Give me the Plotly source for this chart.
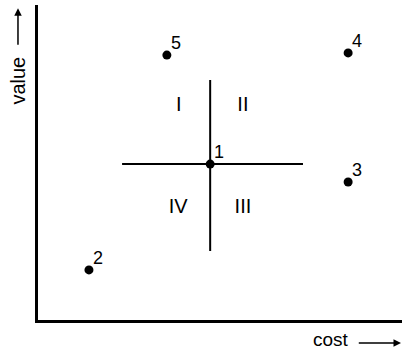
import plotly.graph_objects as go

# points on the cost/value plane
labels = ["1", "2", "3", "4", "5"]
cost = [4.73, 1.40, 8.52, 8.52, 3.54]
value = [4.95, 1.59, 4.38, 8.48, 8.41]

# cross through point 1
cross_h_x = [2.31, 7.28]
cross_h_y = [4.95, 4.95]
cross_v_x = [4.73, 4.73]
cross_v_y = [2.19, 7.62]

# quadrant labels
quad_text = ["I", "II", "III", "IV"]
quad_x = [3.87, 5.63, 5.63, 3.85]
quad_y = [6.80, 6.80, 3.57, 3.57]

fig = go.Figure()

fig.add_trace(go.Scatter(x=cross_h_x, y=cross_h_y, mode="lines",
                         line=dict(color="black", width=2), hoverinfo="skip"))
fig.add_trace(go.Scatter(x=cross_v_x, y=cross_v_y, mode="lines",
                         line=dict(color="black", width=2), hoverinfo="skip"))

fig.add_trace(go.Scatter(
    x=cost, y=value, mode="markers",
    marker=dict(color="black", size=9),
))

# point numbers, up and to the right of each dot
for lab, cx, vy in zip(labels, cost, value):
    fig.add_annotation(x=cx, y=vy, text=lab, showarrow=False,
                       xanchor="center", yanchor="middle",
                       xshift=9, yshift=12, font=dict(size=18))

fig.add_trace(go.Scatter(
    x=quad_x, y=quad_y, mode="text", text=quad_text,
    textfont=dict(size=20, color="black"), hoverinfo="skip",
))

# axis captions with arrows
fig.add_annotation(xref="paper", yref="paper", x=-0.055, y=0.76, text="value",
                   textangle=-90, showarrow=False, font=dict(size=20),
                   xanchor="center", yanchor="middle")
fig.add_annotation(xref="paper", yref="paper", x=-0.055, y=0.99, ax=0, ay=38,
                   text="", showarrow=True, arrowhead=2, arrowsize=1,
                   arrowwidth=1.5, arrowcolor="black")
fig.add_annotation(xref="paper", yref="paper", x=0.805, y=-0.062, text="cost",
                   showarrow=False, font=dict(size=19),
                   xanchor="center", yanchor="middle")
fig.add_annotation(xref="paper", yref="paper", x=0.998, y=-0.073, ax=-44, ay=0,
                   text="", showarrow=True, arrowhead=2, arrowsize=1,
                   arrowwidth=1.5, arrowcolor="black")

fig.update_xaxes(range=[0, 10], showline=True, linecolor="black", linewidth=3,
                 showgrid=False, zeroline=False, showticklabels=False, ticks="")
fig.update_yaxes(range=[0, 10], showline=True, linecolor="black", linewidth=3,
                 showgrid=False, zeroline=False, showticklabels=False, ticks="")

fig.update_layout(
    width=402, height=350,
    margin=dict(l=38, r=0, t=5, b=30, autoexpand=False),
    plot_bgcolor="white", paper_bgcolor="white",
    showlegend=False,
    font=dict(family="Liberation Sans, Arial, sans-serif", color="black"),
)

# the page's default body margin would push the figure off the window
fig.write_html("out.html", config={"displayModeBar": False},
               post_script="document.body.style.margin='0';")
